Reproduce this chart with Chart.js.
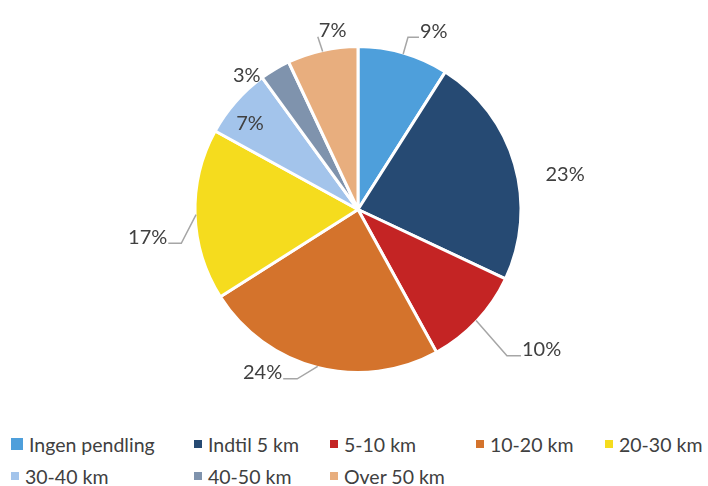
<!DOCTYPE html>
<html>
<head>
<meta charset="utf-8">
<script src="https://cdn.jsdelivr.net/npm/chart.js@4"></script>
<style>
  html, body { margin: 0; padding: 0; background: #fff; }
  body { width: 708px; height: 486px; overflow: hidden; font-family: Lato, "Open Sans", sans-serif; }
  #wrap { position: relative; width: 708px; height: 420px; }
  #legend { position: absolute; left: 11px; top: 428px; width: 760px; color: #404040; font-size: 19.5px; }
  #legend .row { display: flex; height: 32px; align-items: center; }
  #legend .item { display: flex; align-items: center; flex-shrink: 0; white-space: nowrap; }
  #legend .box { display: inline-block; margin-right: 6px; }
</style>
</head>
<body>
<div id="wrap"><canvas id="pie"></canvas></div>
<div id="legend"></div>
<script>
const categories = ["Ingen pendling", "Indtil 5 km", "5-10 km", "10-20 km", "20-30 km", "30-40 km", "40-50 km", "Over 50 km"];
const shares = [9, 23, 10, 24, 17, 7, 3, 7];
const colors = ["#4e9fdb", "#264a73", "#c42424", "#d4732c", "#f5dc1e", "#a3c4eb", "#7f93ad", "#e8ae7e"];

// label placement (fraction of radius, angle nudge in degrees, leader side / tail length)
const labelDist = [1.20, 1.29, 1.41, 1.15, 1.30, 0.853, 1.08, 1.12];
const labelTurn = [6.6, 6.2, -6.2, 16.2, -5.2, -2.4, -8.6, 4.6];
const leaderSide = ["l", null, "l", "r", "r", null, null, "l"];
const leaderTail = [11, 0, 14, 14, 13, 0, 0, 0];

const legendCols = [183, 136, 146, 129, 120];
const legendBox = [12, 8, 8, 8, 8, 8, 8, 8];

const outsideLabels = {
    id: "outsideLabels",
    afterDatasetsDraw: (chart) => {
        const ctx = chart.ctx;
        const arcs = chart.getDatasetMeta(0).data;
        ctx.save();
        ctx.font = "20px Lato, 'Open Sans', sans-serif";
        ctx.fillStyle = "#404040";
        ctx.textAlign = "center";
        ctx.textBaseline = "middle";
        arcs.forEach((arc, i) => {
            const cx = arc.x, cy = arc.y, r = arc.outerRadius;
            const mid = (arc.startAngle + arc.endAngle) / 2;
            const a = mid + labelTurn[i] * Math.PI / 180;
            const lx = cx + Math.cos(a) * r * labelDist[i];
            const ly = cy + Math.sin(a) * r * labelDist[i];
            const text = shares[i] + "%";
            ctx.fillText(text, lx, ly + 2); // Lato sits a bit high on "middle"

            if (leaderSide[i]) {
                const w = ctx.measureText(text).width;
                const ax = leaderSide[i] == "l" ? lx - w / 2 - 1 : lx + w / 2 + 1;
                const ay = ly + 8;
                const ex = leaderSide[i] == "l" ? ax - leaderTail[i] : ax + leaderTail[i];
                const px = cx + Math.cos(mid) * (r - 1);
                const py = cy + Math.sin(mid) * (r - 1);
                ctx.beginPath();
                ctx.moveTo(px, py);
                ctx.lineTo(ex, ay);
                ctx.lineTo(ax, ay);
                ctx.lineWidth = 1.5;
                ctx.strokeStyle = "#a6a6a6";
                ctx.stroke();
            }
        });
        ctx.restore();
    },
};

new Chart(document.getElementById("pie").getContext("2d"), {
    type: "pie",
    data: {
        labels: categories,
        datasets: [
            {
                data: shares,
                backgroundColor: colors,
                borderColor: "#ffffff",
                borderWidth: 3,
            },
        ],
    },
    options: {
        responsive: true,
        maintainAspectRatio: false,
        animation: false,
        layout: { padding: { top: 45, bottom: 46, left: 8, right: 0 } },
        plugins: {
            legend: { display: false },
            tooltip: { enabled: false },
        },
    },
    plugins: [outsideLabels],
});

// legend, two rows like the original
const legend = document.getElementById("legend");
const perRow = 5;
for (let start = 0; start < categories.length; start += perRow) {
    const row = document.createElement("div");
    row.className = "row";
    categories.slice(start, start + perRow).forEach((name, j) => {
        const item = document.createElement("div");
        item.className = "item";
        item.style.width = legendCols[j] + "px";
        const box = document.createElement("span");
        box.className = "box";
        box.style.width = legendBox[start + j] + "px";
        box.style.height = legendBox[start + j] + "px";
        box.style.background = colors[start + j];
        const label = document.createElement("span");
        label.textContent = name;
        item.appendChild(box);
        item.appendChild(label);
        row.appendChild(item);
    });
    legend.appendChild(row);
}
</script>
</body>
</html>
